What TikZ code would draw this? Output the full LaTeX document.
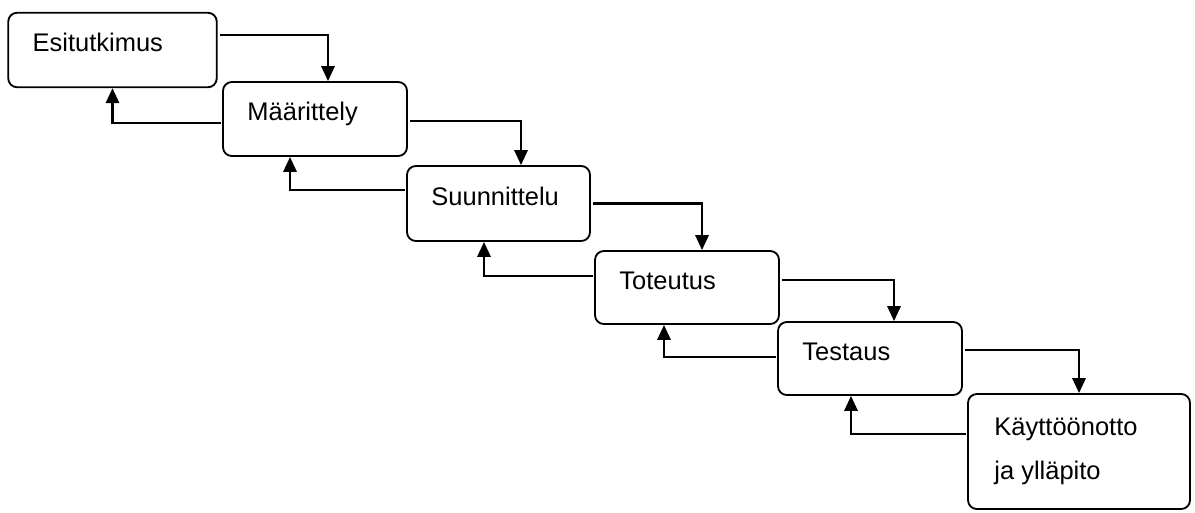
\documentclass[tikz,border=0pt]{standalone}
\usepackage{fontspec}
\setmainfont{Liberation Sans}
\usetikzlibrary{arrows.meta,calc}

\tikzset{
    stage/.style={draw, rounded corners=5pt, line width=1.05pt, inner sep=0pt},
    stagetext/.style={anchor=base west, inner sep=0pt, font=\fontsize{14.5}{17}\selectfont},
    flow/.style={-{Triangle[length=8.5pt, width=7.5pt]}, line width=1.4pt}
}

\begin{document}
\begin{tikzpicture}[x=0.02cm, y=-0.02cm]
                \useasboundingbox (0, 0) rectangle (1195, 512);

                \node[stage, minimum width=4.17cm, minimum height=1.49cm] (esi) at (112.5, 50) {};
                \node[stage, minimum width=3.68cm, minimum height=1.48cm] (maar) at (315, 119) {};
                \node[stage, minimum width=3.66cm, minimum height=1.50cm] (suun) at (498.5, 203.5) {};
                \node[stage, minimum width=3.68cm, minimum height=1.46cm] (tot) at (687, 287.5) {};
                \node[stage, minimum width=3.68cm, minimum height=1.46cm] (test) at (870, 358.5) {};
                \node[stage, minimum width=4.44cm, minimum height=2.30cm] (kaytto) at (1079, 451.5) {};

                \node[stagetext] (esit) at ($(esi.west)+(25, 1.5)$) {Esitutkimus};
                \node[stagetext] (maart) at ($(maar.west)+(25, 1.5)$) {Määrittely};
                \node[stagetext] (suunt) at ($(suun.west)+(25, 1.5)$) {Suunnittelu};
                \node[stagetext] (tott) at ($(tot.west)+(25, 1.5)$) {Toteutus};
                \node[stagetext] (testt) at ($(test.west)+(25, 1.5)$) {Testaus};
                \node[stagetext] (kayttoa) at ($(kaytto.west)+(27, -16.5)$) {Käyttöönotto};
                \node[stagetext] (kayttob) at ($(kaytto.west)+(27, 27.5)$) {ja ylläpito};

                % eteenpain
                \draw[flow] ($(esi.east)+(2, -15)$) -| ($(maar.north)+(13, 0)$);
                \draw[flow] ($(maar.east)+(2, 2)$) -| ($(suun.north)+(22.5, 0)$);
                \draw[flow] ($(suun.east)+(2, 0)$) -| ($(tot.north)+(15, 0)$);
                \draw[flow] ($(tot.east)+(2, -7.5)$) -| ($(test.north)+(24, 0)$);
                \draw[flow] ($(test.east)+(2, -8.5)$) -| (kaytto.north);

                % takaisin
                \draw[flow] ($(maar.west)+(-1, 4)$) -| (esi.south);
                \draw[flow] ($(suun.west)+(-1, -13.5)$) -| ($(maar.south)+(-25, 0)$);
                \draw[flow] ($(tot.west)+(-1, -11.5)$) -| ($(suun.south)+(-14.5, 0)$);
                \draw[flow] ($(test.west)+(-1, -1.5)$) -| ($(tot.south)+(-23, 0)$);
                \draw[flow] ($(kaytto.west)+(-1, -17.5)$) -| ($(test.south)+(-19, 0)$);
            \end{tikzpicture}
\end{document}
